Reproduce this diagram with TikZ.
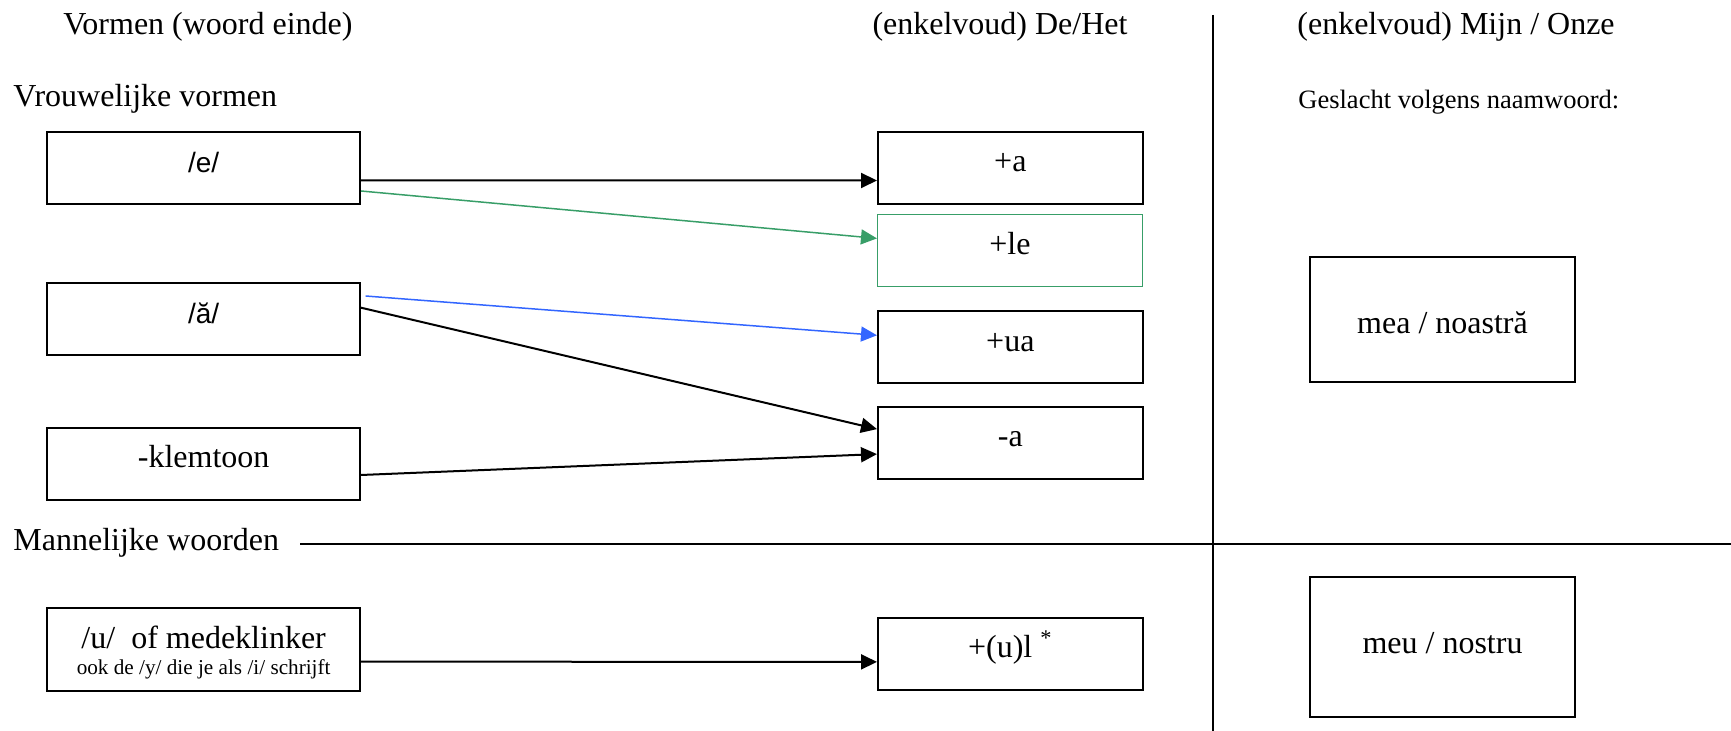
\documentclass[tikz,border=0pt]{standalone}
\usepackage{fontspec}
\setmainfont{Liberation Serif}
\newfontfamily\sansf{Liberation Sans}
\usetikzlibrary{arrows.meta}
\definecolor{grn}{RGB}{56,158,104}
\definecolor{blu}{RGB}{51,102,255}
\begin{document}
\begin{tikzpicture}[x=0.5pt,y=-0.5pt,
  font=\fontsize{16}{19.2}\selectfont,
  bx/.style={draw,line width=1pt,inner sep=0pt,anchor=north west,text height=20pt,text depth=16pt},
  lbx/.style={bx,minimum width=156.35pt},
  mbx/.style={bx,minimum width=132.35pt},
  rbx/.style={draw,line width=1pt,inner sep=0pt,anchor=north west,minimum width=132.5pt,text height=38.5pt},
  sansbox/.style={font={\sansf\fontsize{14}{16.8}\selectfont}},
  arr/.style={line width=1pt,-{Triangle[length=8pt,width=7.5pt]}},
  sepline/.style={line width=1pt},
  ttl/.style={anchor=base,inner sep=0pt}]

\useasboundingbox (0,0) rectangle (1731,731);

% headings
\node[ttl] (t1) at (208,35) {Vormen (woord einde)};
\node[ttl] (t2) at (1000,35) {(enkelvoud) De/Het};
\node[ttl,anchor=base west] (t3) at (1297,35) {(enkelvoud) Mijn / Onze};
\node[ttl,anchor=base west] (vv) at (13,107) {Vrouwelijke vormen};
\node[ttl,anchor=base west,font=\fontsize{13.25}{16}\selectfont] (gs) at (1298,109) {Geslacht volgens naamwoord:};
\node[ttl,anchor=base west] (mw) at (13,550.5) {Mannelijke woorden};

% left boxes
\node[lbx,sansbox] (e) at (46.3,131.3) {/e/};
\node[lbx,sansbox] (ab) at (46.3,282.3) {/ă/};
\node[lbx] (kl) at (46.3,426.7) {-klemtoon};
\node[lbx,text height=20.2pt,text depth=21.15pt] (u) at (46.3,607.3)
  {\begin{tabular}[t]{@{}c@{}}/u/\ \ of medeklinker\\[-6.05pt]{\fontsize{10.6}{12.7}\selectfont ook de /y/ die je als /i/ schrijft}\end{tabular}};

% middle boxes
\node[mbx] (a) at (877,131) {+a};
\node[mbx,draw=grn,line width=0.6pt] (le) at (877,214.3) {+le};
\node[mbx] (ua) at (877,310.3) {+ua};
\node[mbx] (ma) at (877,406) {-a};
\node[mbx] (ul) at (877,616.7) {+(u)l \textsuperscript{*}};

% right boxes
\node[rbx,text depth=24pt] (mea) at (1309,256) {mea / noastră};
\node[rbx,text height=38.35pt,text depth=31.5pt] (meu) at (1309,576) {meu / nostru};

% connectors
\draw[arr] ([yshift=-6pt]e.east) -- ([yshift=-6.25pt]a.west);
\draw[arr,color=grn,line width=0.75pt] ([yshift=-11.35pt]e.east) -- ([yshift=6.25pt]le.west);
\draw[arr,color=blu,line width=0.75pt] ([xshift=2.3pt,yshift=11.65pt]ab.east) -- ([yshift=6pt]ua.west);
\draw[arr] ([yshift=5.8pt]ab.east) -- ([yshift=6.95pt]ma.west);
\draw[arr] ([yshift=-5.65pt]kl.east) -- ([yshift=-5.55pt]ma.west);
\draw[arr] ([yshift=-6pt]u.east) -- ([yshift=-4.1pt]ul.west);

% separators
\coordinate (v1) at (1213,15);
\coordinate (v2) at (1213,731);
\coordinate (h1) at (300,544);
\coordinate (h2) at (1731,544);
\draw[sepline] (v1) -- (v2);
\draw[sepline] (h1) -- (h2);
\end{tikzpicture}
\end{document}
